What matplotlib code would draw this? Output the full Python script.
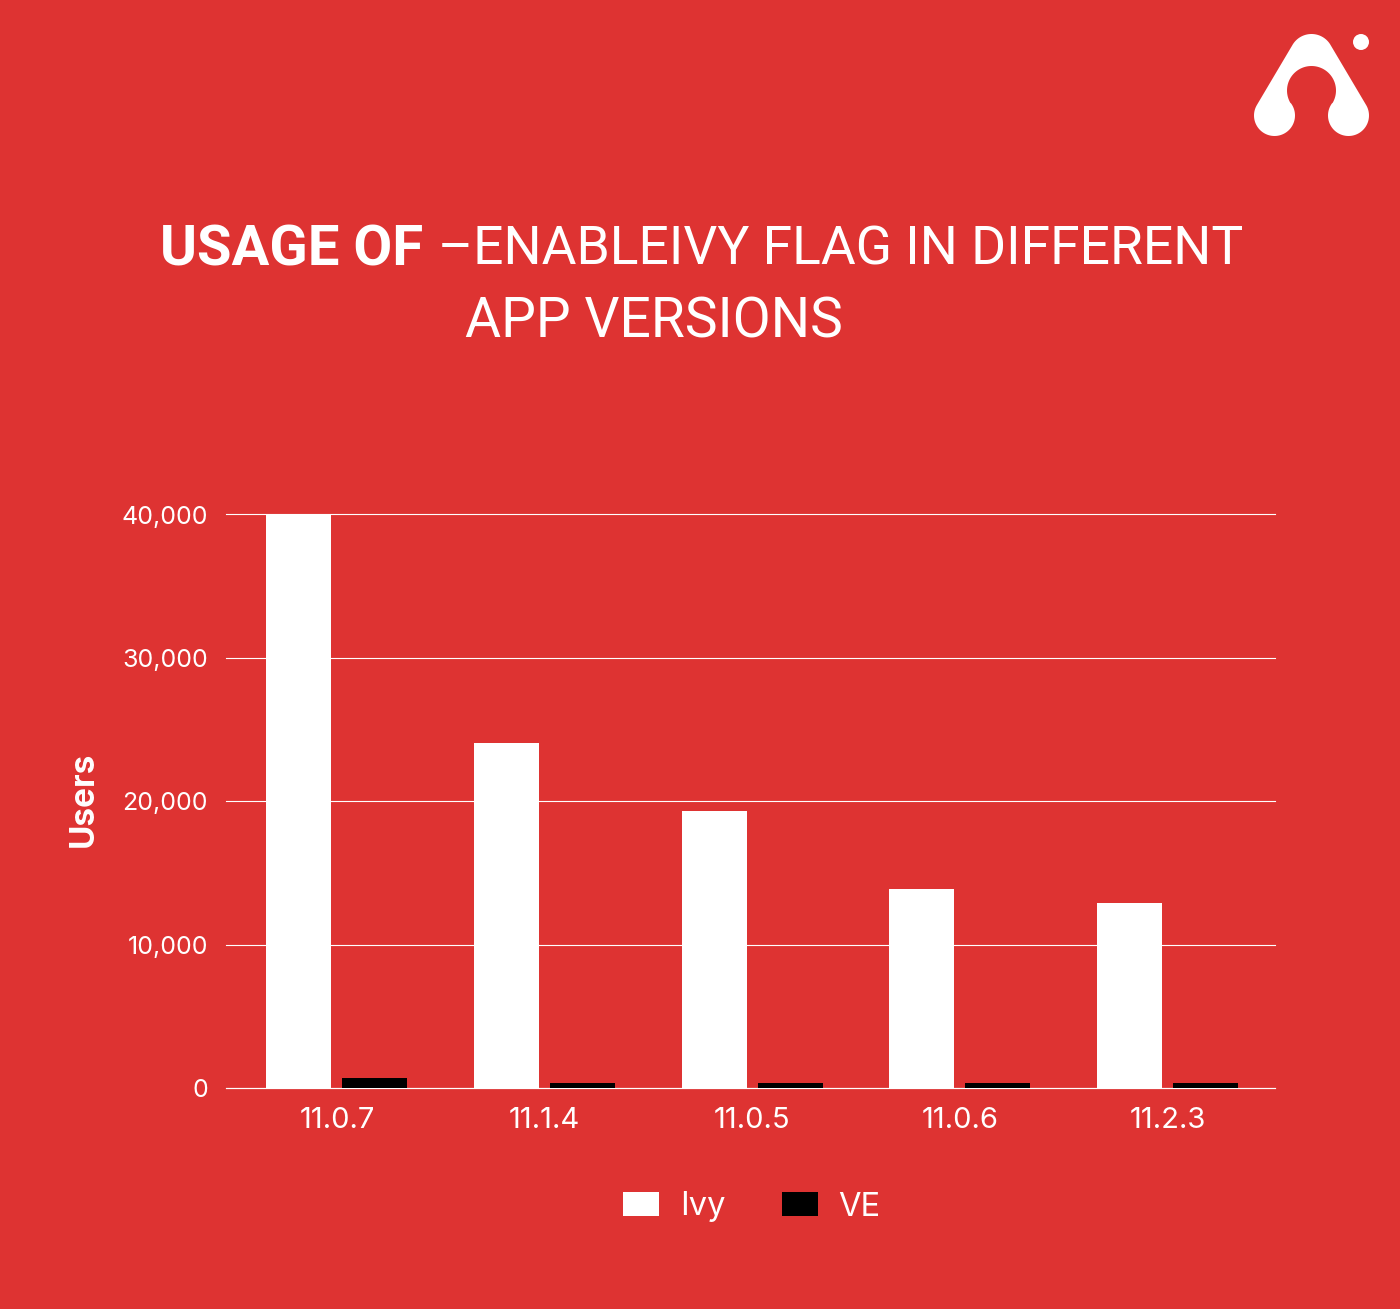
import numpy as np
import matplotlib
matplotlib.use("Agg")
import matplotlib.pyplot as plt
from matplotlib.path import Path
from matplotlib.patches import PathPatch, Circle
from matplotlib.ticker import FuncFormatter

versions = ["11.0.7", "11.1.4", "11.0.5", "11.0.6", "11.2.3"]
ivy_users = [40000, 24050, 19300, 13870, 12890]
ve_users = [700, 350, 350, 350, 350]
y_ticks = [0, 10000, 20000, 30000, 40000]

RED = "#DE3332"
W, H = 1400, 1309
plt.rcParams["font.family"] = ["Inter", "DejaVu Sans"]
TITLE_FONT = ["Roboto", "DejaVu Sans"]


def arc(cx, cy, r, start, end):
    a = np.radians(np.linspace(start, end, 60))
    return np.column_stack([cx + r * np.cos(a), cy + r * np.sin(a)])


fig = plt.figure(figsize=(W / 100, H / 100), dpi=100, facecolor=RED)

# chart area, pixel bounds
ax = fig.add_axes([226 / W, 1 - 1088 / H, (1274.5 - 226) / W, (1088 - 514.5) / H], facecolor=RED)
x = np.arange(len(versions))
bar_w = 0.313
ax.bar(x - 0.183, ivy_users, bar_w, color="white", label="Ivy", zorder=3)
ax.bar(x + 0.183, ve_users, bar_w, color="black", label="VE", zorder=3)

ax.set_xlim(-0.534, 4.515)
ax.set_ylim(0, 40000)
ax.set_xticks(x, versions)
ax.set_yticks(y_ticks)
ax.yaxis.set_major_formatter(FuncFormatter(lambda v, p: f"{int(v):,}"))
ax.tick_params(axis="x", length=0, pad=14, labelsize=21, labelcolor="white")
ax.tick_params(axis="y", length=0, pad=13, labelsize=18, labelcolor="white")
ax.grid(axis="y", color="white", linewidth=0.8, zorder=1)
ax.set_axisbelow(True)
for line in ax.get_ygridlines():
    line.set_clip_on(False)
for side in ["top", "right", "left"]:
    ax.spines[side].set_visible(False)
ax.spines["bottom"].set_color("white")
ax.spines["bottom"].set_linewidth(0.8)

fig.text(84 / W, 1 - 799 / H, "Users", rotation=90, color="white", fontsize=24,
         fontweight="bold", ha="center", va="center")

fig.legend(loc="center", bbox_to_anchor=(752 / W, 1 - 1207 / H), ncol=2, frameon=False,
           fontsize=23.5, labelcolor="white", handlelength=1.1, handleheight=0.77,
           handletextpad=0.63, columnspacing=1.74)

# overlay in pixel coordinates for the title and the logo
over = fig.add_axes([0, 0, 1, 1], facecolor="none")
over.set_xlim(0, W)
over.set_ylim(H, 0)
over.axis("off")

over.text(423, 250, "USAGE OF", color="white", fontsize=40.5, fontweight="bold",
          family=TITLE_FONT, ha="right", va="center")
over.text(438, 250, "–ENABLEIVY FLAG IN DIFFERENT", color="white", fontsize=38.4,
          family=TITLE_FONT, ha="left", va="center")
over.text(465, 322, "APP VERSIONS", color="white", fontsize=39.8,
          family=TITLE_FONT, ha="left", va="center")

logo = np.vstack([
    arc(1311.5, 56, 22, -148, -32),
    arc(1348.5, 115.5, 20.5, -32, 217),
    arc(1311.5, 90.5, 24.5, 31, -211),
    arc(1274.5, 115.5, 20.5, -37, 212),
])
over.add_patch(PathPatch(Path(np.vstack([logo, logo[0]]), closed=True), facecolor="white", edgecolor="none"))
over.add_patch(Circle((1361, 42), 8, facecolor="white", edgecolor="none"))

fig.savefig("out.png", dpi=100, facecolor=RED)
